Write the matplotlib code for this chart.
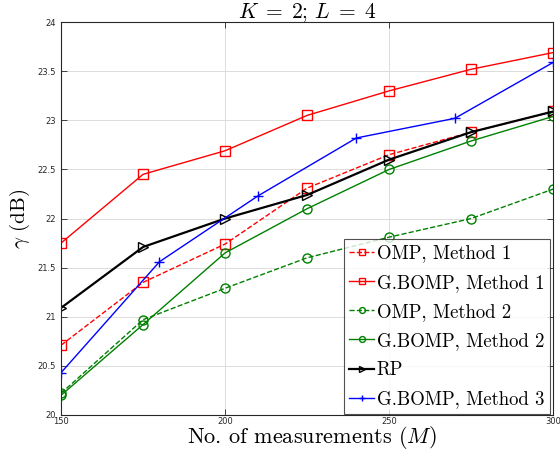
import numpy as np
import matplotlib
matplotlib.use("Agg")
import matplotlib.pyplot as plt

plt.rcParams.update({
    "mathtext.fontset": "cm",
    "font.family": "DejaVu Sans",
    "axes.formatter.use_mathtext": True,
})
CM = "cmr10"  # Computer Modern roman shipped with matplotlib

# ---------------------------------------------------------------------------
# Data
# ---------------------------------------------------------------------------
m_grid = [150, 175, 200, 225, 250, 275, 300]
m_rp3 = [150, 180, 210, 240, 270, 300]

omp_m1 = [20.71, 21.35, 21.74, 22.31, 22.65, 22.88, 23.09]
gbomp_m1 = [21.75, 22.45, 22.69, 23.05, 23.30, 23.52, 23.69]
omp_m2 = [20.22, 20.97, 21.29, 21.60, 21.81, 22.00, 22.30]
gbomp_m2 = [20.20, 20.92, 21.65, 22.10, 22.50, 22.79, 23.04]
rp = [21.09, 21.71, 22.00, 22.24, 22.60, 22.88, 23.09]
gbomp_m3 = [20.43, 21.56, 22.23, 22.82, 23.02, 23.59]

x_ticks = [150, 200, 250, 300]
y_ticks = [20, 20.5, 21, 21.5, 22, 22.5, 23, 23.5, 24]
y_tick_labels = ["20", "20.5", "21", "21.5", "22", "22.5", "23", "23.5", "24"]

fig = plt.figure(figsize=(5.6, 4.51), dpi=100)
ax = fig.add_axes([0.109, 0.080, 0.879, 0.871])

green = "#008000"
ms = 6.5
ax.plot(m_grid, omp_m1, "s--", color="red", lw=1, ms=ms, mfc="none",
        label="OMP, Method 1")
ax.plot(m_grid, gbomp_m1, "s-", color="red", lw=1, ms=ms, mfc="none",
        label="G.BOMP, Method 1")
ax.plot(m_grid, omp_m2, "o--", color=green, lw=1, ms=ms, mfc="none",
        label="OMP, Method 2")
ax.plot(m_grid, gbomp_m2, "o-", color=green, lw=1, ms=ms, mfc="none",
        label="G.BOMP, Method 2")
ax.plot(m_grid, rp, ">-", color="black", lw=1.6, ms=ms, mfc="none",
        label="RP")
ax.plot(m_rp3, gbomp_m3, "+-", color="blue", lw=1, ms=ms + 0.5,
        label="G.BOMP, Method 3")

ax.set_xlim(150, 300)
ax.set_ylim(20, 24)
ax.set_xticks(x_ticks)
ax.set_xticklabels([str(v) for v in x_ticks])
ax.set_yticks(y_ticks)
ax.set_yticklabels(y_tick_labels)
ax.tick_params(direction="in", top=True, right=True, labelsize=6,
               length=4, width=0.6, colors="#262626")
ax.tick_params(axis="x", pad=1.5)
ax.grid(True, color="#dcdcdc", lw=0.7)
ax.set_axisbelow(True)
for sp in ax.spines.values():
    sp.set_color("#262626")
    sp.set_linewidth(0.8)

ax.set_title(r"$K\;=\;2$; $L\;=\;4$", fontsize=15.5, pad=3, family=CM)
# x label placed by baseline so it sits just under the tick labels
fig.text(0.557, 0.018, r"No. of measurements ($M$)", fontsize=16,
         family=CM, ha="center", va="baseline")
ax.set_ylabel(r"$\gamma$ (dB)", fontsize=15, labelpad=4, family=CM)

leg = ax.legend(loc="lower right", bbox_to_anchor=(0.995, 0.0),
                prop={"family": CM, "size": 13.5},
                frameon=True, fancybox=False, edgecolor="#262626",
                borderaxespad=0.05, handlelength=1.3, labelspacing=0.6,
                handletextpad=0.15, borderpad=0.3, markerscale=0.65)
leg.get_frame().set_linewidth(0.8)

fig.savefig("out.png", dpi=100)
